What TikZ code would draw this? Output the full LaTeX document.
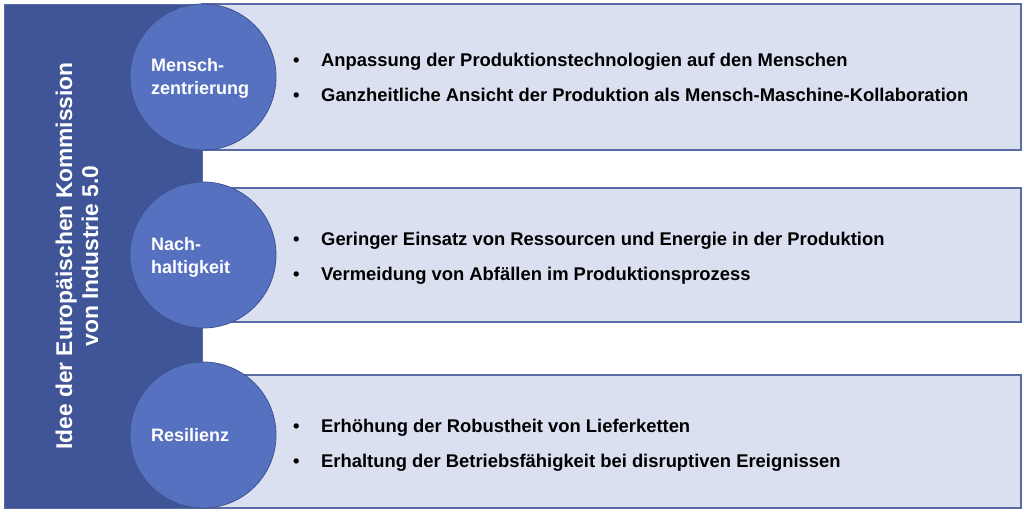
\documentclass[tikz,border=0pt]{standalone}
\usepackage{fontspec}
\setmainfont{Liberation Sans}
\definecolor{band}{HTML}{3F5597}
\definecolor{circfill}{HTML}{5571C0}
\definecolor{circline}{HTML}{3D5291}
\definecolor{boxfill}{HTML}{DAE0F0}
\definecolor{boxline}{HTML}{5A6BA6}
\begin{document}
\begin{tikzpicture}[x=1pt,y=-1pt,
  pillar/.style={fill=band,draw=boxline,line width=0.8pt},
  panel/.style={fill=boxfill,draw=boxline,line width=1.2pt},
  topic/.style={circle,fill=circfill,draw=circline,line width=0.8pt,minimum size=146pt,inner sep=0pt},
  topiclabel/.style={text=white,font=\bfseries\fontsize{18}{23}\selectfont,align=left,anchor=west,inner sep=0pt},
  itemtext/.style={font=\bfseries\fontsize{18.4}{35}\selectfont,anchor=west,inner sep=0pt,text=black}]
\useasboundingbox (0,0) rectangle (1024,513);
\fill[white] (0,0) rectangle (1024,513);
% left pillar
\draw[pillar] (4,4) rectangle (202,508);
\node[rotate=90,text=white,font=\bfseries\fontsize{22.8}{26}\selectfont,align=center] (title) at (77,256)
  {Idee der Europäischen Kommission\\von Industrie 5.0};
% panels
\draw[panel] (202,4) rectangle (1021,150);
\draw[panel] (202,188) rectangle (1021,322);
\draw[panel] (202,375) rectangle (1021,508);
% circles
\node[topic] (c1) at (203,77) {};
\node[topic] (c2) at (203,255) {};
\node[topic] (c3) at (203,435) {};
\node[topiclabel] (l1) at (151,78) {Mensch-\\zentrierung};
\node[topiclabel] (l2) at (151,257) {Nach-\\haltigkeit};
\node[topiclabel] (l3) at (151,435) {Resilienz};
% items
\node[itemtext] (t1) at (293,77) {\begin{tabular}{@{}p{28pt}@{}l@{}}\textbullet & Anpassung der Produktionstechnologien auf den Menschen\\ \textbullet & Ganzheitliche Ansicht der Produktion als Mensch-Maschine-Kollaboration\end{tabular}};
\node[itemtext] (t2) at (293,256) {\begin{tabular}{@{}p{28pt}@{}l@{}}\textbullet & Geringer Einsatz von Ressourcen und Energie in der Produktion\\ \textbullet & Vermeidung von Abfällen im Produktionsprozess\end{tabular}};
\node[itemtext] (t3) at (293,443) {\begin{tabular}{@{}p{28pt}@{}l@{}}\textbullet & Erhöhung der Robustheit von Lieferketten\\ \textbullet & Erhaltung der Betriebsfähigkeit bei disruptiven Ereignissen\end{tabular}};
\end{tikzpicture}
\end{document}
